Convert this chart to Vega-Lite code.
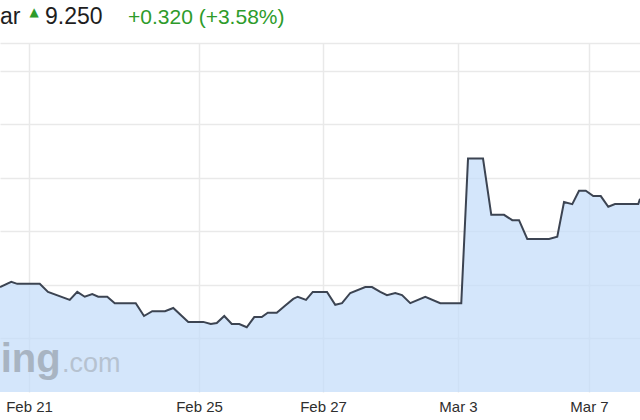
{
  "$schema": "https://vega.github.io/schema/vega-lite/v6.json",
  "autosize": "none",
  "width": 640,
  "height": 349,
  "padding": {"left": 0, "top": 43, "right": 0, "bottom": 28},
  "background": "white",
  "config": {"view": {"stroke": null}, "font": "Liberation Sans"},
  "layer": [
    {
      "data": {"values": [
        {"t": 0, "price": 9.096}, {"t": 1.5, "price": 9.106}, {"t": 2.3, "price": 9.102}, {"t": 5.3, "price": 9.102},
        {"t": 6.4, "price": 9.087}, {"t": 9.3, "price": 9.072}, {"t": 10.3, "price": 9.087}, {"t": 11.3, "price": 9.078},
        {"t": 12.3, "price": 9.083}, {"t": 13.1, "price": 9.078}, {"t": 14.3, "price": 9.078}, {"t": 15.3, "price": 9.066},
        {"t": 18.1, "price": 9.066}, {"t": 19.2, "price": 9.042}, {"t": 20.3, "price": 9.051}, {"t": 22, "price": 9.051},
        {"t": 23.1, "price": 9.057}, {"t": 25.1, "price": 9.031}, {"t": 27.1, "price": 9.031}, {"t": 28.1, "price": 9.027},
        {"t": 28.9, "price": 9.029}, {"t": 29.9, "price": 9.042}, {"t": 30.9, "price": 9.027}, {"t": 31.9, "price": 9.027},
        {"t": 32.9, "price": 9.021}, {"t": 33.9, "price": 9.04}, {"t": 34.9, "price": 9.04}, {"t": 35.7, "price": 9.048},
        {"t": 36.9, "price": 9.048}, {"t": 38, "price": 9.061}, {"t": 39.1, "price": 9.074}, {"t": 39.7, "price": 9.078},
        {"t": 40.8, "price": 9.072}, {"t": 41.7, "price": 9.087}, {"t": 43.6, "price": 9.087}, {"t": 44.7, "price": 9.063},
        {"t": 45.6, "price": 9.066}, {"t": 46.7, "price": 9.085}, {"t": 48.7, "price": 9.096}, {"t": 49.6, "price": 9.096},
        {"t": 50.7, "price": 9.087}, {"t": 51.6, "price": 9.081}, {"t": 52.7, "price": 9.085}, {"t": 53.6, "price": 9.081},
        {"t": 54.7, "price": 9.066}, {"t": 56.7, "price": 9.078}, {"t": 58.7, "price": 9.066}, {"t": 61.5, "price": 9.066},
        {"t": 62.4, "price": 9.336}, {"t": 64.4, "price": 9.336}, {"t": 65.5, "price": 9.231}, {"t": 67.2, "price": 9.231},
        {"t": 68.3, "price": 9.221}, {"t": 69.2, "price": 9.221}, {"t": 70.3, "price": 9.186}, {"t": 73.2, "price": 9.186},
        {"t": 74.3, "price": 9.19}, {"t": 75.2, "price": 9.255}, {"t": 76.3, "price": 9.251}, {"t": 77.2, "price": 9.276},
        {"t": 78.1, "price": 9.276}, {"t": 79.1, "price": 9.266}, {"t": 80.1, "price": 9.266}, {"t": 81.1, "price": 9.246},
        {"t": 82, "price": 9.251}, {"t": 85.1, "price": 9.251}, {"t": 85.33, "price": 9.261}
      ]},
      "mark": {"type": "area", "color": "#c2dcf9", "fillOpacity": 0.7, "line": {"color": "#3c4452", "strokeWidth": 2}},
      "encoding": {
        "x": {"field": "t", "type": "quantitative",
          "scale": {"domain": [0, 85.33], "nice": false, "zero": false},
          "axis": {"title": null, "values": [3.87, 26.53, 43.07, 61.07, 78.53],
            "labelExpr": "datum.value < 10 ? 'Feb 21' : datum.value < 30 ? 'Feb 25' : datum.value < 50 ? 'Feb 27' : datum.value < 70 ? 'Mar 3' : 'Mar 7'",
            "domain": false, "ticks": false, "grid": true, "gridColor": "#e9e9e9", "gridWidth": 1.5,
            "labelFontSize": 15, "labelColor": "#2e2e2e", "labelPadding": 7, "labelFont": "Liberation Sans"}},
        "y": {"field": "price", "type": "quantitative",
          "scale": {"domain": [8.9, 9.552], "nice": false, "zero": false},
          "axis": {"title": null, "orient": "right", "labels": false, "ticks": false, "domain": false,
            "grid": true, "gridColor": "#e9e9e9", "gridWidth": 1.5, "values": [9.0, 9.1, 9.2, 9.3, 9.4, 9.5, 9.552]}},
        "y2": {"datum": 8.9}
      }
    },
    {
      "mark": {"type": "rule", "color": "#6e2e2e", "strokeWidth": 2},
      "encoding": {"y": {"datum": 9.525, "type": "quantitative"}}
    },
    {
      "data": {"values": [{"label": "ing"}]},
      "mark": {"type": "text", "align": "left", "baseline": "alphabetic", "fontSize": 40, "fontWeight": "bold", "color": "#a8b4c2"},
      "encoding": {"text": {"field": "label"}, "x": {"datum": 0.1, "type": "quantitative"}, "y": {"datum": 8.937, "type": "quantitative"}}
    },
    {
      "data": {"values": [{"label": ".com"}]},
      "mark": {"type": "text", "align": "left", "baseline": "alphabetic", "fontSize": 27, "color": "#b6c2d0"},
      "encoding": {"text": {"field": "label"}, "x": {"datum": 8.27, "type": "quantitative"}, "y": {"datum": 8.937, "type": "quantitative"}}
    },
    {
      "data": {"values": [{"label": "ar"}]},
      "mark": {"type": "text", "align": "left", "baseline": "alphabetic", "fontSize": 23, "color": "#1e1e1e"},
      "encoding": {"text": {"field": "label"}, "x": {"datum": 0, "type": "quantitative"}, "y": {"datum": 9.588, "type": "quantitative"}}
    },
    {
      "data": {"values": [{"label": "▲"}]},
      "mark": {"type": "text", "align": "center", "baseline": "middle", "fontSize": 12, "font": "DejaVu Sans", "color": "#2e9b2a"},
      "encoding": {"text": {"field": "label"}, "x": {"datum": 4.55, "type": "quantitative"}, "y": {"datum": 9.61, "type": "quantitative"}}
    },
    {
      "data": {"values": [{"label": "9.250"}]},
      "mark": {"type": "text", "align": "left", "baseline": "alphabetic", "fontSize": 23, "color": "#1e1e1e"},
      "encoding": {"text": {"field": "label"}, "x": {"datum": 6.0, "type": "quantitative"}, "y": {"datum": 9.588, "type": "quantitative"}}
    },
    {
      "data": {"values": [{"label": "+0.320 (+3.58%)"}]},
      "mark": {"type": "text", "align": "left", "baseline": "alphabetic", "fontSize": 21, "color": "#2e9b2a"},
      "encoding": {"text": {"field": "label"}, "x": {"datum": 17.07, "type": "quantitative"}, "y": {"datum": 9.588, "type": "quantitative"}}
    }
  ]
}
